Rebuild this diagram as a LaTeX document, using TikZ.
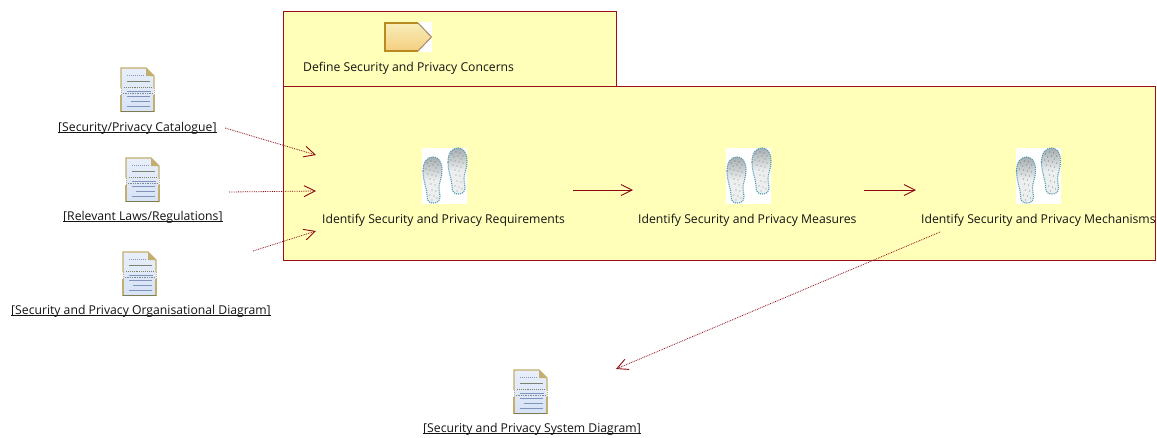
\documentclass[tikz,border=0pt]{standalone}
\usepackage{fontspec}
\setmainfont{Open Sans}
\usetikzlibrary{arrows.meta,shadings}
\definecolor{frame}{HTML}{990F1E}
\definecolor{panel}{HTML}{FFFFB9}
\definecolor{conn}{HTML}{8B0A14}
\definecolor{docedge}{HTML}{C2AE6E}
\definecolor{docbase}{HTML}{7D7A50}
\definecolor{docfill}{HTML}{D6E2F6}
\definecolor{docline}{HTML}{7F93BD}
\definecolor{footedge}{HTML}{4F9AB2}
\definecolor{footfill}{HTML}{A6ADB0}
\definecolor{footmid}{HTML}{EDEFEF}
\definecolor{chevtop}{HTML}{F7EEB8}
\definecolor{chevbot}{HTML}{F5CE80}
\definecolor{chevedge}{HTML}{B98A20}
\definecolor{chevtip}{HTML}{A58A68}
\tikzset{
  x=1pt,y=-1pt,
  panelbox/.style={draw=frame,fill=panel,line width=0.9pt},
  lbl/.style={inner sep=0pt,anchor=base west,font=\fontsize{12.2}{14}\selectfont,text=black!92},
  flow/.style={draw=conn,line width=0.9pt,-{Straight Barb[length=11pt,width=11pt,line width=0.9pt]}},
  dep/.style={draw=conn,line width=0.8pt,densely dotted,-{Straight Barb[length=11pt,width=11pt,line width=0.9pt]}},
  docicon/.pic={
    \shade[top color=docfill!55!white,bottom color=docfill] (0,0) -- (25,0) -- (33,8) -- (33,44) -- (0,44) -- cycle;
    \draw[docedge,line width=1.1pt] (0,20) -- (0,0) -- (25,0) -- (33,8) -- (33,20);
    \draw[docedge,line width=1.1pt] (0,27) -- (0,44) (33,27) -- (33,44);
    \draw[docedge,line width=1pt,densely dotted] (0,20) -- (0,27) (33,20) -- (33,27);
    \fill[docedge] (25,0) -- (33,8) -- (25,8) -- cycle;
    \draw[docbase,line width=1.7pt] (0,43.4) -- (33,43.4);
    \draw[docline,line width=1pt,densely dotted] (6,7) -- (24,7);
    \draw[docbase!70!docline,line width=1pt] (6,13) -- (29,13);
    \draw[docbase!80!docline,line width=.9pt,densely dotted] (3,19.5) -- (31,19.5);
    \draw[docline,line width=.9pt] (6,23.5) -- (30,23.5);
    \draw[docbase!40!docline,line width=.7pt,densely dotted] (2,25.5) -- (32,25.5);
    \draw[docline,line width=.9pt] (6,28.5) -- (29,28.5);
    \draw[docline,line width=.9pt] (10,33) -- (29,33);
    \draw[docline,line width=.9pt] (6,38) -- (29,38);
  },
  footshape/.pic={
    \shade[top color=footfill,bottom color=footmid,middle color=footmid,draw=footedge,line width=1.1pt,densely dotted]
      (0,14) .. controls (0,4) and (5,0) .. (10,0)
      .. controls (15,0) and (19,4) .. (19,13)
      .. controls (19,21) and (16,26) .. (16,30)
      .. controls (16,34) and (17,37) .. (17,40)
      .. controls (17,44) and (14,46) .. (10,46)
      .. controls (6,46) and (4,44) .. (4,38)
      .. controls (4,32) and (0,24) .. (0,14) -- cycle;
    \foreach \px/\py in {4/6,8/4,12/5,15/8,6/9,10/8,13/11,3/12,7/13,11/14,15/15,5/17,9/18,13/19,7/22,11/23,8/27,12/28,9/33,13/34,7/38,11/39,14/41,9/43}
      \fill[black!50!footedge,opacity=.55] (\px,\py) circle (.7);
  },
  stepicon/.pic={
    \fill[white] (0,0) rectangle (45,56);
    \pic at (1,9) {footshape};
    \pic at (26,0) {footshape};
  },
}
\newcommand{\doclabel}[1]{\sbox0{#1}\usebox0\llap{\rule[-1.6pt]{\wd0}{0.8pt}}}
\begin{document}
\begin{tikzpicture}
\useasboundingbox (0,0) rectangle (1157,437);
\fill[white] (0,0) rectangle (1157,437);
% panels
\path[panelbox] (283,11) rectangle (616,86);
\path[panelbox] (283,86) rectangle (1155,260);
% chevron
\fill[white] (384,22) rectangle (432,52);
\shade[top color=chevtop,bottom color=chevbot] (385,23) -- (418,23) -- (431.5,37) -- (418,51) -- (385,51) -- cycle;
\draw[chevtip,line width=1pt] (418,23) -- (431.5,37) -- (418,51);
\draw[chevedge,line width=1.5pt] (418,51) -- (385,51) -- (385,23) -- (418,23);
\node[lbl] (define) at (303,71) {Define Security and Privacy Concerns};
% steps
\pic at (422,148) {stepicon};
\pic at (726,148) {stepicon};
\pic at (1015.5,148) {stepicon};
\node[lbl] (req) at (322,223) {Identify Security and Privacy Requirements};
\node[lbl] (mea) at (638,223) {Identify Security and Privacy Measures};
\node[lbl] (mec) at (921,223) {Identify Security and Privacy Mechanisms};
% documents
\pic at (121,68) {docicon};
\pic at (126,158) {docicon};
\pic at (123,252) {docicon};
\pic at (514,370) {docicon};
\node[lbl] (cat) at (58,131.5) {\doclabel{[Security/Privacy Catalogue]}};
\node[lbl] (law) at (63,220.5) {\doclabel{[Relevant Laws/Regulations]}};
\node[lbl] (org) at (11,314.5) {\doclabel{[Security and Privacy Organisational Diagram]}};
\node[lbl] (sys) at (423,432.5) {\doclabel{[Security and Privacy System Diagram]}};
% connector ends
\coordinate (catE) at (225,128);
\coordinate (lawE) at (229,192);
\coordinate (orgE) at (253,251);
\coordinate (reqA) at (316,155);
\coordinate (reqB) at (316,191);
\coordinate (reqC) at (316,231);
\coordinate (reqE) at (573,190);
\coordinate (meaW) at (633,190);
\coordinate (meaE) at (864,190);
\coordinate (mecW) at (916,190);
\coordinate (mecS) at (940,232);
\coordinate (sysN) at (616,369);
\draw[dep] (catE) -- (reqA);
\draw[dep] (lawE) -- (reqB);
\draw[dep] (orgE) -- (reqC);
\draw[flow] (reqE) -- (meaW);
\draw[flow] (meaE) -- (mecW);
\draw[dep] (mecS) -- (sysN);
\end{tikzpicture}
\end{document}
